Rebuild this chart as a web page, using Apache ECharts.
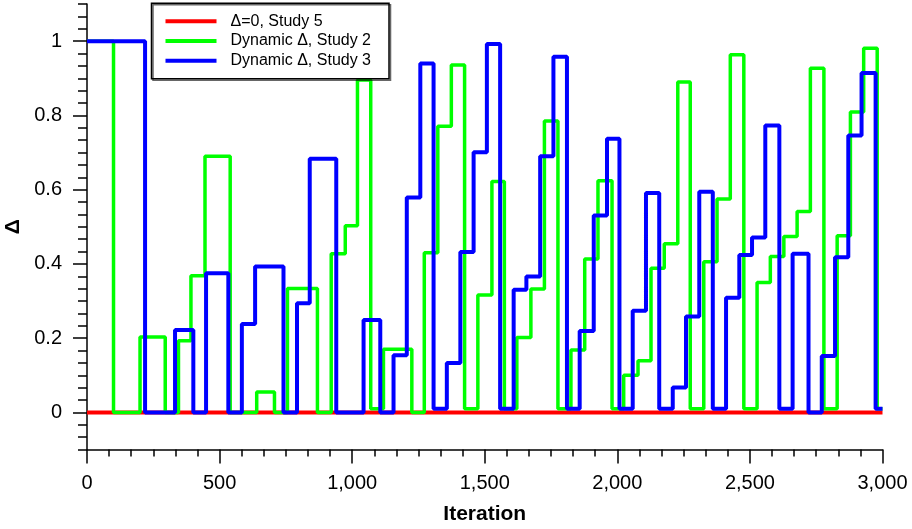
<!DOCTYPE html>
<html>
<head>
<meta charset="utf-8">
<script src="https://cdn.jsdelivr.net/npm/echarts@6/dist/echarts.min.js"></script>
<style>
  html, body { margin: 0; padding: 0; background: #fff; }
  #chart { width: 912px; height: 529px; }
</style>
</head>
<body>
<div id="chart"></div>
<script>
const seriesNames = ['\u0394=0, Study 5', 'Dynamic \u0394, Study 2', 'Dynamic \u0394, Study 3'];

const study5Iter = [0, 3000];
const study5Delta = [0, 0];

const study2Iter = [0, 100, 200, 295, 345, 392, 445, 540, 640, 707, 756, 869, 921, 974, 1020, 1070, 1118,
  1225, 1272, 1323, 1374, 1424, 1474, 1527, 1574, 1621, 1674, 1725, 1776, 1825, 1877, 1927, 1980,
  2024, 2078, 2127, 2177, 2228, 2275, 2326, 2376, 2426, 2477, 2527, 2577, 2628, 2678, 2728, 2779,
  2829, 2879, 2929, 2980, 3000];
const study2Delta = [1, 0, 0.203, 0, 0.193, 0.368, 0.69, 0, 0.055, 0, 0.334, 0, 0.427, 0.503, 0.895, 0.01, 0.17,
  0, 0.43, 0.771, 0.936, 0.01, 0.316, 0.622, 0.01, 0.202, 0.332, 0.785, 0.01, 0.168, 0.413, 0.624, 0.01,
  0.10, 0.139, 0.388, 0.454, 0.89, 0.01, 0.406, 0.575, 0.963, 0.01, 0.35, 0.42, 0.474, 0.541, 0.927, 0.01,
  0.476, 0.809, 0.981, 0.01, 0.01];

const study3Iter = [0, 219, 332, 401, 449, 533, 584, 634, 741, 792, 840, 940, 1043, 1106, 1156, 1206, 1257,
  1307, 1357, 1408, 1458, 1508, 1558, 1609, 1657, 1709, 1759, 1810, 1858, 1911, 1961, 2008, 2058,
  2108, 2158, 2209, 2259, 2309, 2360, 2410, 2460, 2508, 2558, 2611, 2661, 2721, 2771, 2821, 2871,
  2921, 2974, 3000];
const study3Delta = [1, 0, 0.222, 0, 0.375, 0, 0.238, 0.393, 0, 0.294, 0.683, 0, 0.249, 0, 0.154, 0.579, 0.94,
  0.01, 0.133, 0.432, 0.701, 0.992, 0.01, 0.33, 0.366, 0.69, 0.958, 0.01, 0.219, 0.53, 0.737, 0.01, 0.274,
  0.591, 0.01, 0.067, 0.258, 0.594, 0.01, 0.309, 0.424, 0.471, 0.773, 0.01, 0.427, 0, 0.152, 0.418, 0.746,
  0.914, 0.01, 0.01];

const yMajorTicks = [0, 0.2, 0.4, 0.6, 0.8, 1];

const FONT = '"Liberation Sans", Arial, sans-serif';

function pairs(xs, ys) {
  return xs.map((x, i) => [x, ys[i]]);
}

function stepSeries(name, xs, ys, color, width) {
  return {
    name: name,
    type: 'line',
    step: 'end',
    symbol: 'none',
    data: pairs(xs, ys),
    lineStyle: { color: color, width: width },
    itemStyle: { color: color },
    xAxisIndex: 0,
    yAxisIndex: 0,
    animation: false
  };
}

const gridBox = { left: 87, right: 29.5, top: 4, bottom: 79.5, containLabel: false, outerBoundsMode: 'none' };

const chart = echarts.init(document.getElementById('chart'));
chart.setOption({
  animation: false,
  textStyle: { fontFamily: FONT },
  grid: [Object.assign({}, gridBox), Object.assign({}, gridBox)],
  legend: {
    orient: 'vertical',
    left: 151.5,
    top: 3.3,
    data: seriesNames,
    icon: 'rect',
    itemWidth: 51,
    itemHeight: 4,
    itemGap: 3.7,
    padding: [10, 18, 10, 14],
    borderColor: '#000',
    borderWidth: 1.5,
    shadowColor: 'rgba(0,0,0,0.6)',
    shadowOffsetX: 1.5,
    shadowOffsetY: 1.5,
    shadowBlur: 0,
    textStyle: { fontFamily: FONT, fontSize: 16, color: '#000', padding: [0, 0, 0, 9] }
  },
  xAxis: [{
    gridIndex: 0,
    type: 'value',
    min: 0,
    max: 3000,
    interval: 500,
    name: 'Iteration',
    nameLocation: 'middle',
    nameGap: 54,
    nameTextStyle: { fontFamily: FONT, fontSize: 21, fontWeight: 'bold', color: '#000' },
    axisLine: { show: true, onZero: false, lineStyle: { color: '#000', width: 1.5 } },
    axisTick: { show: true, length: 14, lineStyle: { color: '#000', width: 1.5 } },
    minorTick: { show: true, splitNumber: 6, length: 7, lineStyle: { color: '#000', width: 1.5 } },
    axisLabel: {
      margin: 24,
      fontFamily: FONT,
      fontSize: 20,
      color: '#000',
      formatter: (v) => v.toLocaleString('en-US')
    },
    splitLine: { show: false }
  }, {
    gridIndex: 1,
    type: 'value',
    min: 0,
    max: 3000,
    show: false
  }],
  yAxis: [{
    gridIndex: 0,
    type: 'value',
    min: -0.1,
    max: 1.1,
    interval: 0.1,
    name: '\u0394',
    nameLocation: 'middle',
    nameRotate: 90,
    nameGap: 58,
    nameTextStyle: { fontFamily: FONT, fontSize: 21, fontWeight: 'bold', color: '#000' },
    axisLine: { show: true, onZero: false, lineStyle: { color: '#000', width: 1.5 } },
    axisTick: { show: true, length: 9, lineStyle: { color: '#000', width: 1.5 } },
    minorTick: { show: true, splitNumber: 3, length: 9, lineStyle: { color: '#000', width: 1.5 } },
    axisLabel: {
      margin: 25,
      fontFamily: FONT,
      fontSize: 20,
      color: '#000',
      formatter: (v) => {
        const k = Math.round(v * 10);
        if (k < 0 || k % 2 !== 0) return '';
        return String(k / 10);
      }
    },
    splitLine: { show: false }
  }, {
    // long ticks at labelled values
    gridIndex: 1,
    type: 'value',
    min: -0.1,
    max: 1.1,
    axisLine: { show: false, onZero: false },
    axisLabel: { show: false },
    axisTick: { show: true, customValues: yMajorTicks, length: 14, lineStyle: { color: '#000', width: 1.5 } },
    splitLine: { show: false }
  }],
  series: [
    stepSeries(seriesNames[0], study5Iter, study5Delta, '#ff0000', 4),
    stepSeries(seriesNames[1], study2Iter, study2Delta, '#00ff00', 3.5),
    stepSeries(seriesNames[2], study3Iter, study3Delta, '#0000ff', 4)
  ]
});
</script>
</body>
</html>
